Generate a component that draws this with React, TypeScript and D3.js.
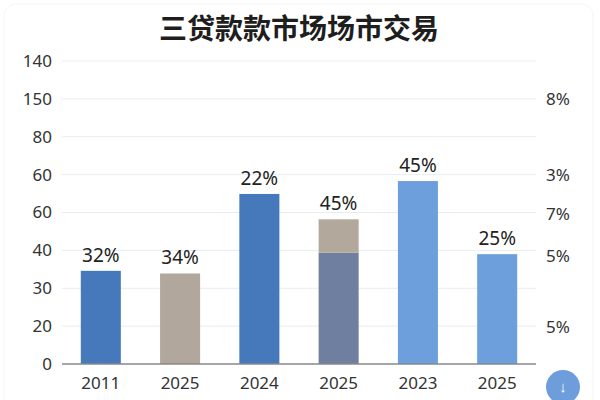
import React from 'react';
import * as d3 from 'd3';

const categories = ['2011', '2025', '2024', '2025', '2023', '2025'];
const baseValues = [2.46, 2.39, 4.49, 2.94, 4.83, 2.9];
const topValues = [0, 0, 0, 0.88, 0, 0];
const barLabels = ['32%', '34%', '22%', '45%', '45%', '25%'];
const baseColors = ['#4678BC', '#B1A79C', '#4678BC', '#6F7F9F', '#6C9FDB', '#6C9FDB'];
const topColor = '#B3A89C';

const leftTicks = ['0', '20', '30', '40', '60', '60', '80', '150', '140'];
const rightTicks = ['5%', '5%', '7%', '3%', '8%'];
const rightTickPos = [0.98, 2.85, 3.97, 5, 7];

const width = 600;
const height = 400;
const plot = { left: 62, right: 536, top: 61, bottom: 364 };

const App: React.FC = () => {
  const x = d3.scaleBand<number>()
    .domain(categories.map((_, i) => i))
    .range([plot.left, plot.right])
    .paddingInner(0.495)
    .paddingOuter(0.237);

  const y = d3.scaleLinear()
    .domain([0, leftTicks.length - 1])
    .range([plot.bottom, plot.top]);

  const font = '"Noto Sans", sans-serif';

  return (
    <svg
      width={width}
      height={height}
      style={{ position: 'absolute', left: 0, top: 0, background: '#fff' }}
    >
      <rect x={4} y={4} width={589} height={420} rx={12} fill="none" stroke="#f5f5f5" />

      <text
        x={299}
        y={39}
        textAnchor="middle"
        fontFamily='"Noto Sans CJK SC", sans-serif'
        fontWeight={700}
        fontSize={28}
        fill="#1e1e1e"
      >
        三贷款款市场场市交易
      </text>

      {/* gridlines + left ticks */}
      {leftTicks.map((t, i) => (
        <g key={i}>
          {i > 0 && (
            <line x1={plot.left} x2={plot.right} y1={y(i)} y2={y(i)} stroke="#E8ECF0" strokeWidth={1} />
          )}
          <text
            x={52}
            y={y(i)}
            dy="0.35em"
            textAnchor="end"
            fontFamily={font}
            fontSize={17}
            fill="#333"
          >
            {t}
          </text>
        </g>
      ))}

      {/* right ticks */}
      {rightTicks.map((t, i) => (
        <text
          key={i}
          x={546}
          y={y(rightTickPos[i])}
          dy="0.35em"
          fontFamily={font}
          fontSize={17}
          fill="#333"
        >
          {t}
        </text>
      ))}

      {/* bars */}
      {categories.map((c, i) => {
        const bx = x(i) || 0;
        const total = baseValues[i] + topValues[i];
        return (
          <g key={i}>
            <rect
              x={bx}
              y={y(baseValues[i])}
              width={x.bandwidth()}
              height={y(0) - y(baseValues[i])}
              fill={baseColors[i]}
            />
            {topValues[i] > 0 && (
              <rect
                x={bx}
                y={y(total)}
                width={x.bandwidth()}
                height={y(baseValues[i]) - y(total)}
                fill={topColor}
              />
            )}
            <text
              x={bx + x.bandwidth() / 2}
              y={y(total) - 9}
              textAnchor="middle"
              fontFamily={font}
              fontSize={19}
              fill="#222"
            >
              {barLabels[i]}
            </text>
            <text
              x={bx + x.bandwidth() / 2}
              y={389}
              textAnchor="middle"
              fontFamily={font}
              fontSize={17}
              fill="#333"
            >
              {c}
            </text>
          </g>
        );
      })}

      <line x1={plot.left} x2={plot.right} y1={y(0)} y2={y(0)} stroke="#888" strokeWidth={1.5} />

      {/* scroll button */}
      <circle cx={563} cy={387} r={17} fill="#6E9DDB" />
      <text x={563} y={387} dy="0.35em" textAnchor="middle" fontFamily={font} fontSize={15} fill="#fff">
        ↓
      </text>
    </svg>
  );
};

export default App;
